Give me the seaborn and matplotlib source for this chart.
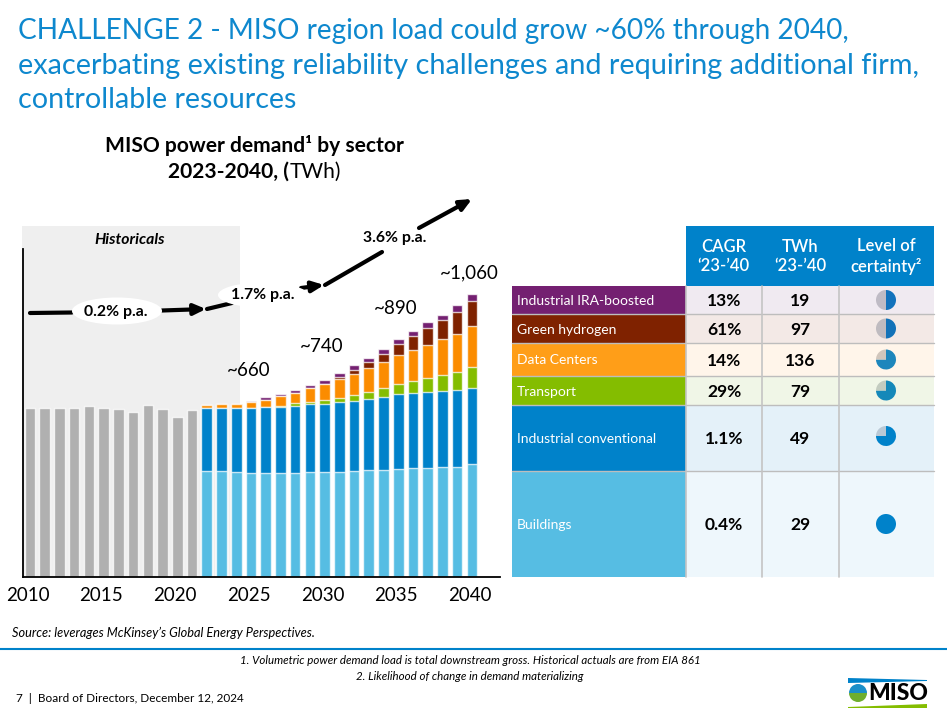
import pandas as pd
import seaborn as sns
import matplotlib.pyplot as plt
from matplotlib.patches import Ellipse, Polygon, Rectangle, Wedge

# historical demand, TWh
hist_years = list(range(2010, 2022))
hist_total = [632, 634, 632, 632, 639, 632, 628, 618, 644, 628, 599, 624]

# forecast by sector, TWh
years = list(range(2022, 2041))
buildings = [398, 396, 393, 391, 390, 391, 390, 393, 393, 394, 397, 400, 402, 406, 407, 410, 411, 413, 423]
industrial = [234, 236, 239, 242, 245, 247, 250, 254, 256, 260, 262, 265, 272, 278, 281, 282, 284, 286, 286]
transport = [0, 0, 0, 0, 0, 3, 11, 10, 15, 17, 21, 27, 32, 39, 45, 54, 60, 69, 79]
data_centers = [12, 15, 17, 22, 29, 36, 37, 49, 57, 70, 80, 89, 99, 107, 119, 124, 135, 142, 151]
hydrogen = [0, 0, 0, 0, 0, 0, 0, 0, 0, 7, 17, 25, 32, 44, 51, 64, 72, 84, 96]
ira = [0, 0, 0, 6, 9, 9, 12, 14, 17, 16, 16, 16, 16, 17, 19, 20, 21, 24, 24]

tick_years = [2010, 2015, 2020, 2025, 2030, 2035, 2040]

# table contents
sectors = ['Industrial IRA-boosted', 'Green hydrogen', 'Data Centers', 'Transport', 'Industrial conventional', 'Buildings']
cagr = ['13%', '61%', '14%', '29%', '1.1%', '0.4%']
twh = ['19', '97', '136', '79', '49', '29']
certainty = [0.5, 0.5, 0.75, 0.75, 0.75, 1.0]

label_colors = ['#742071', '#7F2200', '#FF9E18', '#84BD00', '#0082CA', '#56BDE3']
row_colors = ['#F0EAF1', '#F3E9E6', '#FFF5EA', '#F0F6E7', '#E4F1F9', '#EEF7FC']
pie_grey = ['#BFBBC5', '#BFBBC0', '#D1C6BC', '#C3CCC0', '#B9C8D5', '#B9C8D5']
pie_blue = ['#1272BC', '#1272B8', '#1D86BC', '#1488B9', '#0082CA', '#0082CA']
bar_orange = '#FB8C00'
BLUE = '#0082CA'

sns.set_style('white')
plt.rcParams['font.family'] = ['Lato', 'DejaVu Sans']
plt.rcParams['text.color'] = 'black'

W, H = 947, 716
fig = plt.figure(figsize=(W / 100, H / 100), dpi=100)

# page layer in pixel coordinates, for the table and the slide furniture
page = fig.add_axes([0, 0, 1, 1], zorder=0)
page.set_xlim(0, W)
page.set_ylim(H, 0)
page.axis('off')

# chart layer
ax = fig.add_axes([23 / W, (H - 577) / H, 477 / W, 328 / H], zorder=1)
ax.patch.set_alpha(0)

df = pd.DataFrame({'year': years, 'buildings': buildings, 'industrial': industrial,
                   'transport': transport, 'data_centers': data_centers,
                   'hydrogen': hydrogen, 'ira': ira})
stack = [('ira', label_colors[0]), ('hydrogen', label_colors[1]), ('data_centers', bar_orange),
         ('transport', label_colors[3]), ('industrial', label_colors[4]), ('buildings', label_colors[5])]
order = [s[0] for s in stack]

edge = (1, 1, 1, 0.75)
sns.barplot(x=hist_years, y=hist_total, color='#B0B0B0', saturation=1, width=0.72,
            native_scale=True, edgecolor=edge, linewidth=1, ax=ax)
# stacked by drawing the running totals, tallest first
for i, (col, color) in enumerate(stack):
    sns.barplot(x=df['year'], y=df[order[i:]].sum(axis=1), color=color, saturation=1, width=0.72,
                native_scale=True, edgecolor=edge, linewidth=1, ax=ax)

ax.set_xlim(2010 - 7 / 14.73, 2010 + 470 / 14.73)
ax.set_ylim(0, 328 / 0.267)
ax.set_xticks([y - 0.15 for y in tick_years])
ax.set_xticklabels(tick_years, fontsize=13.5, color='black')
ax.tick_params(axis='x', length=0, pad=7)
ax.set_yticks([])
ax.set_xlabel('')
ax.set_ylabel('')
sns.despine(ax=ax)
for side in ['left', 'bottom']:
    ax.spines[side].set_color('black')
    ax.spines[side].set_linewidth(1.3)

# historical band
page.add_patch(Rectangle((22, 226), 218, 351, color='#EFEFEF', lw=0, zorder=0))
page.text(130, 240, 'Historicals', fontsize=11.3, fontweight='bold', style='italic', ha='center', va='center')

# growth arrows
arrow = dict(arrowstyle='-|>,head_width=0.32,head_length=0.7', color='black', lw=3, shrinkA=0, shrinkB=0)
line = dict(arrowstyle='-', color='black', lw=3, shrinkA=0, shrinkB=0)
page.annotate('', xy=(72, 312.5), xytext=(30, 313), arrowprops=line, zorder=2)
page.annotate('', xy=(206, 309), xytext=(162, 310.5), arrowprops=arrow, zorder=2)
page.annotate('', xy=(232, 303), xytext=(207, 309), arrowprops=line, zorder=2)
page.annotate('', xy=(324, 285), xytext=(301, 288), arrowprops=arrow, zorder=2)
page.annotate('', xy=(382, 252), xytext=(325, 285), arrowprops=line, zorder=2)
page.annotate('', xy=(472, 199), xytext=(419, 228), arrowprops=arrow, zorder=2)
page.add_patch(Ellipse((117, 311), 90, 27, color='white', lw=0, zorder=3))
page.add_patch(Ellipse((263, 295), 90, 25, color='white', lw=0, zorder=3))
for x, y, s in [(116, 312, '0.2% p.a.'), (263, 295, '1.7% p.a.'), (395, 238, '3.6% p.a.')]:
    page.text(x, y, s, fontsize=11.4, fontweight='bold', ha='center', va='center', zorder=4)

# totals over the bars
for x, y, s in [(249, 370, '~660'), (322, 347, '~740'), (396, 309, '~890'), (469, 273, '~1,060')]:
    page.text(x, y, s, fontsize=13.5, ha='center', va='center', zorder=4)

# slide title, each line sized to its own width
for y, s, size in [(31.5, 'CHALLENGE 2 - MISO region load could grow ~60% through 2040,', 20.15),
                   (66, 'exacerbating existing reliability challenges and requiring additional firm,', 20.75),
                   (100.5, 'controllable resources', 20.65)]:
    page.text(18, y, s, fontsize=size, color='#0E88CE', ha='left', va='center')

# chart title
page.text(254, 146, 'MISO power demand¹ by sector', fontsize=15.1, fontweight='bold', ha='center', va='center')
page.text(289.5, 172, '2023-2040, (', fontsize=15.1, fontweight='bold', ha='right', va='center')
page.text(289.5, 172, 'TWh)', fontsize=15.1, ha='left', va='center')

# table
col_edges = [512, 686, 762, 839, 934]
row_edges = [286, 314, 343, 376, 405, 471, 577]
page.add_patch(Rectangle((686, 226), 248, 60, color=BLUE, lw=0))
headers = ['CAGR\n‘23-’40', 'TWh\n‘23-’40', 'Level of\ncertainty²']
for i, s in enumerate(headers):
    page.text((col_edges[i + 1] + col_edges[i + 2]) / 2 - 0.5, 256.5, s, color='white', fontsize=12, fontweight='semibold',
              ha='center', va='center', linespacing=1.3)

for i, name in enumerate(sectors):
    top, bottom = row_edges[i], row_edges[i + 1]
    mid = (top + bottom) / 2
    page.add_patch(Rectangle((col_edges[0], top), col_edges[1] - col_edges[0], bottom - top, color=label_colors[i], lw=0))
    page.add_patch(Rectangle((col_edges[1], top), col_edges[4] - col_edges[1], bottom - top, color=row_colors[i], lw=0))
    page.text(517, mid + 1, name, color='white', fontsize=10, ha='left', va='center')
    page.text(724, mid + 1.5, cagr[i], fontsize=12.5, fontweight='bold', ha='center', va='center')
    page.text(800, mid + 1.5, twh[i], fontsize=12.5, fontweight='bold', ha='center', va='center')
    cy = mid - (2 if i == 4 else 0)
    page.add_patch(Wedge((886, cy), 10, 270, 270 + 360 * certainty[i], color=pie_blue[i], lw=0, zorder=3))
    if certainty[i] < 1:
        page.add_patch(Wedge((886, cy), 10, 270 - 360 * (1 - certainty[i]), 270, color=pie_grey[i], lw=0, zorder=3))

# table rules
for y in row_edges[1:-1]:
    page.plot([512, 934], [y, y], color='#BDBDBD', lw=1, zorder=2)
for x in col_edges[1:4]:
    page.plot([x, x], [286, 577], color='#C4C4C4', lw=1.2, zorder=2)

# footer
page.text(12, 633, 'Source: leverages McKinsey’s Global Energy Perspectives.', fontsize=9.2, style='italic', ha='left', va='center')
page.plot([0, W], [649, 649], color=BLUE, lw=1.5)
page.text(470, 661, '1. Volumetric power demand load is total downstream gross. Historical actuals are from EIA 861',
          fontsize=8.25, style='italic', ha='center', va='center')
page.text(470, 676, '2. Likelihood of change in demand materializing', fontsize=8.25, style='italic', ha='center', va='center')
page.text(16, 699, '7  |  Board of Directors, December 12, 2024', fontsize=8.5, ha='left', va='center')

# logo
page.add_patch(Polygon([(848, 678), (927, 680), (927, 681), (848, 683)], color=BLUE, lw=0))
page.add_patch(Polygon([(848, 707), (927, 704), (927, 708), (848, 708)], color=label_colors[3], lw=0))
page.add_patch(Wedge((858, 693), 9, 180, 360, color='#1B8FC9', lw=0))
page.add_patch(Wedge((858, 693), 9, 0, 180, color='#6FAE2E', lw=0))
page.text(898, 693, 'MISO', fontsize=16.5, fontweight='black', ha='center', va='center')

fig.savefig('out.png', dpi=100)
